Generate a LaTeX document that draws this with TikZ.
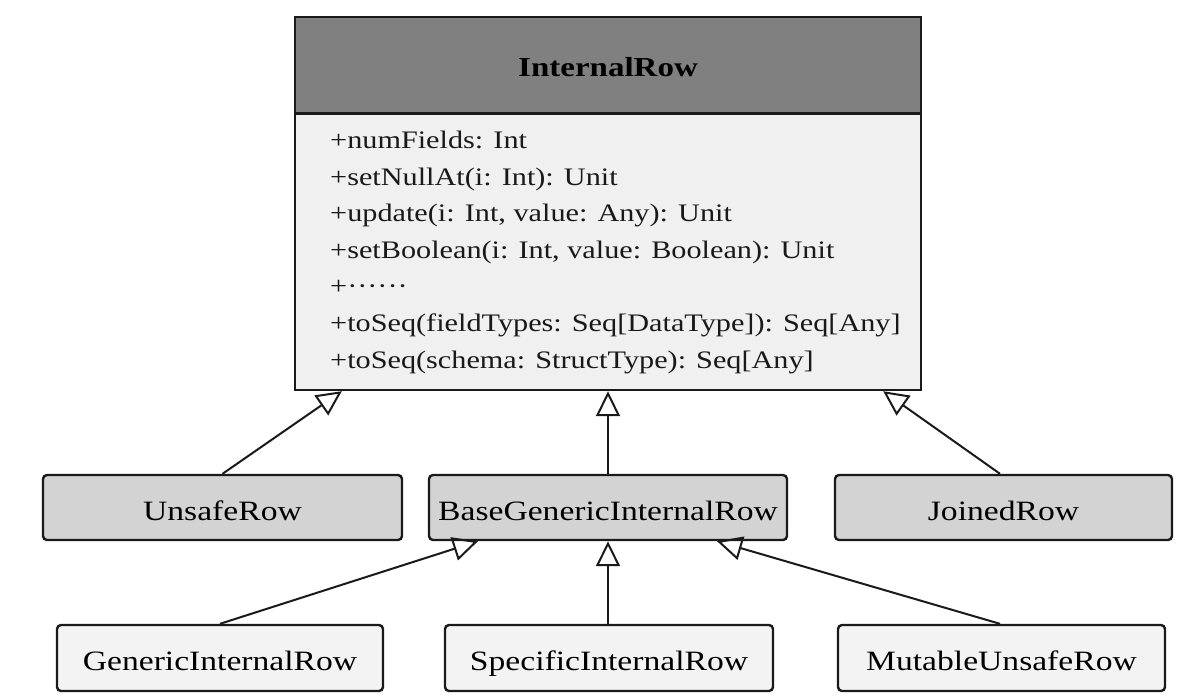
\documentclass[tikz,border=0pt]{standalone}
\usepackage{fontspec}
\setmainfont{Liberation Serif}[FakeStretch=1.2]
\usetikzlibrary{arrows.meta}
\definecolor{headgray}{HTML}{808080}
\definecolor{bodygray}{HTML}{F0F0F0}
\definecolor{midgray}{HTML}{D3D3D3}
\definecolor{lowgray}{HTML}{F3F3F3}
\definecolor{edge}{HTML}{1A1A1A}
\tikzset{
  umlbox/.style={draw=edge, line width=2.4pt, rectangle, inner sep=0pt},
  midbox/.style={umlbox, rounded corners=4pt, fill=midgray, minimum height=65pt,
     font=\fontsize{28}{30}\selectfont, text height=25pt, text depth=0pt},
  lowbox/.style={umlbox, rounded corners=4pt, fill=lowgray, minimum height=66pt,
     font=\fontsize{28}{30}\selectfont, text height=25pt, text depth=0pt},
  member/.style={anchor=base west, inner sep=0pt, font=\fontsize{25.2}{30}\selectfont, text=black!90},
  inherit/.style={draw=edge, line width=2pt, -{Triangle[open, length=25pt, width=24pt, line width=2pt]}}
}
\begin{document}
\begin{tikzpicture}[x=1pt, y=-1pt]
\useasboundingbox (0,0) rectangle (1193,697);
% main class
\node[umlbox, fill=headgray, minimum width=626pt, minimum height=96pt,
      font=\fontsize{27.5}{30}\selectfont\bfseries, text height=22pt, text depth=0pt]
      (head) at (608,65) {InternalRow};
\node[umlbox, fill=bodygray, minimum width=626pt, minimum height=277pt] (body) at (608,251.5) {};
\draw[draw=edge, line width=2.4pt] (head.south west) -- (head.south east);
\node[member] (m1) at (330,148.5) {+numFields: Int};
\node[member] (m2) at (330,185.1) {+setNullAt(i: Int): Unit};
\node[member] (m3) at (330,221.7) {+update(i: Int, value: Any): Unit};
\node[member] (m4) at (330,258.3) {+setBoolean(i: Int, value: Boolean): Unit};
\node[member] (m5) at (330,294.9) {+\textperiodcentered\textperiodcentered\textperiodcentered\textperiodcentered\textperiodcentered\textperiodcentered};
\node[member] (m6) at (330,331.5) {+toSeq(fieldTypes: Seq[DataType]): Seq[Any]};
\node[member] (m7) at (330,368.1) {+toSeq(schema: StructType): Seq[Any]};
% middle row
\node[midbox, minimum width=359pt] (unsafe) at (222.5,507.5) {UnsafeRow};
\node[midbox, minimum width=358pt] (base) at (608,507.5) {BaseGenericInternalRow};
\node[midbox, minimum width=337pt] (joined) at (1003.5,507.5) {JoinedRow};
% bottom row
\node[lowbox, minimum width=326pt] (generic) at (220,658) {GenericInternalRow};
\node[lowbox, minimum width=328pt] (specific) at (609,658) {SpecificInternalRow};
\node[lowbox, minimum width=327pt] (mutable) at (1001.5,658) {MutableUnsafeRow};
% inheritance
\draw[inherit] (unsafe.north) -- ([xshift=48pt]body.south west);
\draw[inherit] (base.north) -- (body.south);
\draw[inherit] ([xshift=-3.5pt]joined.north) -- ([xshift=-39pt]body.south east);
\draw[inherit] (generic.north) -- ([xshift=-130pt]base.south);
\draw[inherit] ([xshift=-1pt]specific.north) -- (base.south);
\draw[inherit] ([xshift=-1.5pt]mutable.north) -- ([xshift=109pt]base.south);
\end{tikzpicture}
\end{document}
